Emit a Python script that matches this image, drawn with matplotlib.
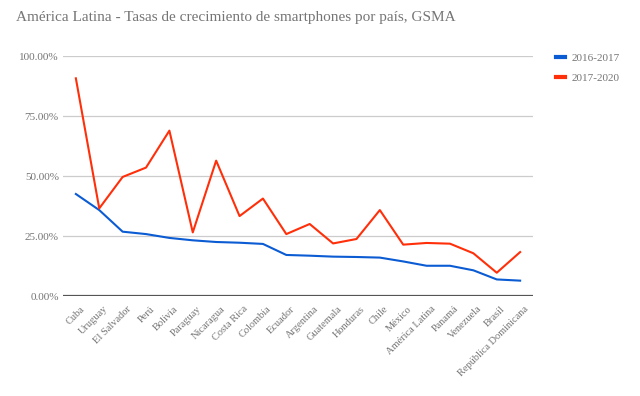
import matplotlib
matplotlib.use('Agg')
import matplotlib.pyplot as plt
from matplotlib.ticker import PercentFormatter
from matplotlib.lines import Line2D
from matplotlib.transforms import ScaledTranslation

countries = ['Cuba', 'Uruguay', 'El Salvador', 'Perú', 'Bolivia', 'Paraguay',
             'Nicaragua', 'Costa Rica', 'Colombia', 'Ecuador', 'Argentina',
             'Guatemala', 'Honduras', 'Chile', 'México', 'América Latina',
             'Panamá', 'Venezuela', 'Brasil', 'República Dominicana']
growth_2016_2017 = [42.5, 35.8, 26.8, 25.8, 24.2, 23.2, 22.5, 22.2, 21.7, 17.1,
                    16.8, 16.4, 16.25, 16.0, 14.4, 12.6, 12.6, 10.7, 6.9, 6.4]
growth_2017_2020 = [90.7, 36.5, 49.6, 53.5, 68.9, 26.5, 56.4, 33.3, 40.6, 25.8,
                    30.0, 21.9, 23.75, 35.8, 21.4, 22.1, 21.8, 17.8, 9.7, 18.3]
series_names = ['2016-2017', '2017-2020']
yticks = [0, 25, 50, 75, 100]

BLUE = '#0b5bd3'
RED = '#ff2f0a'
GRAY = '#757575'
SERIF = 'Liberation Serif'

fig = plt.figure(figsize=(6.4, 3.96), dpi=100)
ax = fig.add_axes([63 / 640, 100 / 396, 470 / 640, 240 / 396])

x = list(range(len(countries)))
ax.plot(x, growth_2016_2017, color=BLUE, lw=1.5, zorder=3)
ax.plot(x, growth_2017_2020, color=RED, lw=1.5, zorder=3)

ax.set_xlim(-0.55, len(countries) - 0.45)
ax.set_ylim(0, 100)
ax.set_yticks(yticks)
ax.yaxis.set_major_formatter(PercentFormatter(decimals=2))
ax.grid(axis='y', color='#cccccc', lw=0.9)
ax.axhline(0, color='#555555', lw=1.6, zorder=2)
for s in ax.spines.values():
    s.set_visible(False)
ax.tick_params(length=0, colors=GRAY, labelsize=8)
ax.tick_params(axis='y', pad=3)
ax.tick_params(axis='x', pad=6)
ax.set_xticks(x)
ax.set_xticklabels(countries, rotation=45, ha='right', rotation_mode='anchor',
                   fontsize=7.5)
shift = ScaledTranslation(4 / 100, 0, fig.dpi_scale_trans)
for lab in ax.get_xticklabels():
    lab.set_transform(lab.get_transform() + shift)
for lab in ax.get_xticklabels() + ax.get_yticklabels():
    lab.set_fontfamily(SERIF)
    lab.set_color(GRAY)

fig.text(16 / 640, 1 - 18 / 396, 'América Latina - Tasas de crecimiento de smartphones por país, GSMA',
         fontsize=11, family=SERIF, color=GRAY, va='center')

handles = [Line2D([], [], color=BLUE, lw=3), Line2D([], [], color=RED, lw=3)]
leg = fig.legend(handles, series_names, loc='upper left',
                 bbox_to_anchor=(546 / 640, 1 - 43 / 396), frameon=False,
                 handlelength=0.8, handletextpad=0.6, labelspacing=0.9,
                 prop={'family': SERIF, 'size': 8})
for t in leg.get_texts():
    t.set_color(GRAY)

fig.savefig('out.png', dpi=100)
